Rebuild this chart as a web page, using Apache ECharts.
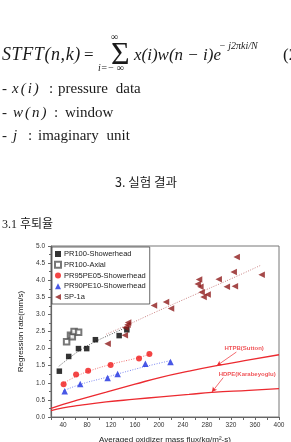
<!DOCTYPE html>
<html><head><meta charset="utf-8">
<script src="https://cdn.jsdelivr.net/npm/echarts@6/dist/echarts.min.js"></script>
<style>
html,body{margin:0;padding:0;background:#fff}
#page{position:relative;width:291px;height:442px;overflow:hidden;background:#fff}
#chart{position:absolute;left:0;top:0;width:291px;height:442px}
.t{position:absolute;white-space:nowrap;line-height:1;font-family:'Liberation Serif',serif;color:#1a1a1a}
.i{font-style:italic}
</style></head>
<body>
<div id="page">
<div id="chart"></div>
<div class="t i" style="left:2px;top:45px;font-size:18px;letter-spacing:0.6px">STFT(n,k)</div>
<div class="t" style="left:84px;top:46px;font-size:17px">=</div>
<div class="t" style="left:111px;top:37px;font-size:32px">Σ</div>
<div class="t" style="left:111px;top:32px;font-size:10px">∞</div>
<div class="t i" style="left:98px;top:63px;font-size:10px">i=− ∞</div>
<div class="t i" style="left:134px;top:46px;font-size:17px">x(i)w(n − i)e</div>
<div class="t i" style="left:219px;top:41px;font-size:10px">− j2πki/N</div>
<div class="t" style="left:283px;top:46px;font-size:17px">(2</div>

<div class="t" style="left:2px;top:81px;font-size:15px">-</div>
<div class="t i" style="left:12px;top:81px;font-size:15px;letter-spacing:2px">x(i)</div>
<div class="t" style="left:49px;top:81px;font-size:15px">:</div>
<div class="t" style="left:58px;top:81px;font-size:15px;word-spacing:4px">pressure data</div>

<div class="t" style="left:2px;top:105px;font-size:15px">-</div>
<div class="t i" style="left:13px;top:105px;font-size:15px;letter-spacing:2px">w(n)</div>
<div class="t" style="left:54px;top:105px;font-size:15px">:</div>
<div class="t" style="left:65px;top:105px;font-size:15px">window</div>

<div class="t" style="left:2px;top:128px;font-size:15px">-</div>
<div class="t i" style="left:13px;top:128px;font-size:15px">j</div>
<div class="t" style="left:28px;top:128px;font-size:15px">:</div>
<div class="t" style="left:38px;top:128px;font-size:15px;word-spacing:4px">imaginary unit</div>

<div class="t" style="left:115px;top:176px;font-size:12.5px;font-family:'Noto Sans CJK KR',sans-serif">3. 실험 결과</div>
<div class="t" style="left:2px;top:218px;font-size:12px;font-family:'Liberation Serif','Noto Sans CJK KR',serif">3.1 후퇴율</div>
</div>
<script>
// ---- data ----
const seriesNames = ['PR100-Showerhead','PR100-Axial','PR95PE05-Showerhead','PR90PE10-Showerhead','SP-1a'];
const pr100Shower = [[33.9,1.34],[49.5,1.77],[65.8,2.0],[79.5,2.0],[94,2.26],[133.6,2.38],[146.4,2.55]];
const pr100Axial = [[46,2.2],[52.5,2.39],[55.5,2.35],[58.5,2.5],[66,2.48]];
const pr95pe05 = [[41,0.96],[61.8,1.24],[81.9,1.355],[119.4,1.52],[166.7,1.71],[184,1.84]];
const pr90pe10 = [[42.8,0.75],[68.7,0.965],[114.4,1.14],[131,1.26],[177.3,1.56],[219.2,1.61]];
const sp1a = [[114.4,2.14],[143,2.39],[144.2,2.62],[147.5,2.7],[148.5,2.76],[191.6,3.26],[211.7,3.36],[220,3.17],
  [266.8,4.02],[264.5,3.89],[269,3.81],[271,3.65],[274.3,3.51],[281,3.58],[299.5,4.03],[313,3.81],[324.5,4.24],
  [326.5,3.82],[329.5,4.68],[371,4.16]];
// dotted fit lines
const pr100Trend = [[33,1.48],[50,1.72],[70,1.97],[90,2.17],[120,2.42],[150,2.65]];
const sp1aTrend = [[112,2.42],[146,2.68],[192,3.05],[260,3.58],[320,4.04],[370,4.44]];
const pr95Trend = [[40,0.98],[60,1.17],[80,1.32],[120,1.54],[160,1.71],[190,1.86]];
const pr90Trend = [[40,0.76],[70,0.96],[110,1.15],[150,1.35],[190,1.53],[220,1.65]];
// reference correlations
const htpbSutton = [[20,0.25],[40,0.37],[67,0.51],[112,0.73],[160,0.96],[203,1.16],[250,1.34],[296,1.5],[350,1.67],[400,1.82]];
const hdpeKarabeyoglu = [[20,0.19],[40,0.27],[67,0.34],[112,0.44],[160,0.52],[203,0.59],[250,0.66],[288,0.72],[350,0.78],[400,0.83]];
// annotations: [x, y, text] and arrows [fromX, fromY, toX, toY]
const annotTexts = [[342,2.01,'HTPB(Sutton)'],[347,1.25,'HDPE(Karabeyoglu)']];
const annotArrows = [[329,1.9,296.4,1.5],[307,1.15,288.2,0.73]];
const xAxisRange = [20, 400, 20];
const yAxisRange = [0, 5, 0.5];

const FONT = "'Liberation Sans', Arial, sans-serif";
const RED = '#ec2a30';
const chart = echarts.init(document.getElementById('chart'), null, {renderer:'canvas'});

function trend(data, color){
  return {type:'line', data, smooth:true, symbol:'none', silent:true, z:1,
    lineStyle:{color, width:1, type:[1,1.5]}};
}
const scatterBase = {type:'scatter', z:3};

chart.setOption({
  animation:false,
  backgroundColor:'transparent',
  grid:{left:51, right:12, top:246, bottom:25, show:true, borderColor:'#777', borderWidth:1,
        containLabel:false, outerBoundsMode:'none'},
  legend:{
    orient:'vertical', left:52, top:247,
    padding:[3,4,3,2], itemGap:2.75, itemWidth:6, itemHeight:6,
    borderColor:'#444', borderWidth:0.8, backgroundColor:'#fff',
    textStyle:{fontFamily:FONT, fontSize:7.5, color:'#222', lineHeight:6, padding:[0,0,0,-2]},
    data:[
      {name:seriesNames[0]},{name:seriesNames[1]},{name:seriesNames[2]},{name:seriesNames[3]},
      {name:seriesNames[4], icon:'path://M0,5L10,0L10,10Z'}
    ]
  },
  xAxis:{
    type:'value', min:xAxisRange[0], max:xAxisRange[1], interval:xAxisRange[2],
    name:'Averaged oxidizer mass flux(kg/m²-s)', nameLocation:'middle', nameGap:19,
    nameTextStyle:{fontFamily:FONT, fontSize:8, color:'#222'},
    axisLine:{lineStyle:{color:'#666', width:1.2}},
    axisTick:{inside:false, length:3, lineStyle:{color:'#666'}},
    axisLabel:{fontFamily:FONT, fontSize:6.5, color:'#333', margin:5,
      formatter:v=> (v%40===0 ? String(v) : '')},
    splitLine:{show:false}
  },
  yAxis:{
    type:'value', min:yAxisRange[0], max:yAxisRange[1], interval:yAxisRange[2],
    name:'Regression rate(mm/s)', nameLocation:'middle', nameGap:16,
    nameTextStyle:{fontFamily:FONT, fontSize:8, color:'#222'},
    axisLine:{show:true, lineStyle:{color:'#666', width:1.2}},
    axisTick:{show:true, inside:false, length:3, lineStyle:{color:'#666'}},
    minorTick:{show:true, splitNumber:2, length:2, lineStyle:{color:'#666'}},
    axisLabel:{fontFamily:FONT, fontSize:6.5, color:'#333', margin:6, formatter:v=>v.toFixed(1)},
    splitLine:{show:false}
  },
  series:[
    trend(pr100Trend, '#555'),
    trend(sp1aTrend, '#c98080'),
    trend(pr95Trend, '#f07070'),
    trend(pr90Trend, '#7a86f0'),
    {type:'line', name:'HTPB', data:htpbSutton, smooth:true, symbol:'none', silent:true, z:2,
      lineStyle:{color:RED, width:1.3},
      markLine:{silent:true, symbol:['none','arrow'], symbolSize:[4,5], animation:false,
        lineStyle:{color:RED, width:0.7, type:'solid'}, label:{show:false},
        data: annotArrows.map(a=>[{coord:[a[0],a[1]]},{coord:[a[2],a[3]]}])}},
    {type:'line', name:'HDPE', data:hdpeKarabeyoglu, smooth:true, symbol:'none', silent:true, z:2,
      lineStyle:{color:RED, width:1.3}},
    {type:'scatter', name:'annot', data:annotTexts, symbolSize:0, silent:true, z:4,
      label:{show:true, position:'inside', formatter:p=>p.data[2], fontFamily:FONT, fontSize:6,
        fontWeight:'bold', color:RED}},
    Object.assign({}, scatterBase, {name:seriesNames[0], data:pr100Shower, symbol:'rect', symbolSize:5.5, itemStyle:{color:'#000'}}),
    Object.assign({}, scatterBase, {name:seriesNames[1], data:pr100Axial, symbol:'emptyRect', symbolSize:5.5, itemStyle:{color:'#555', borderWidth:0.8}}),
    Object.assign({}, scatterBase, {name:seriesNames[2], data:pr95pe05, symbol:'circle', symbolSize:6, itemStyle:{color:'#f01818'}}),
    Object.assign({}, scatterBase, {name:seriesNames[3], data:pr90pe10, symbol:'triangle', symbolSize:6.5, itemStyle:{color:'#1c2ee0'}}),
    Object.assign({}, scatterBase, {name:seriesNames[4], data:sp1a, symbol:'triangle', symbolRotate:90, symbolSize:6.5, itemStyle:{color:'#8e1b1b'}})
  ]
});
</script>
</body></html>
